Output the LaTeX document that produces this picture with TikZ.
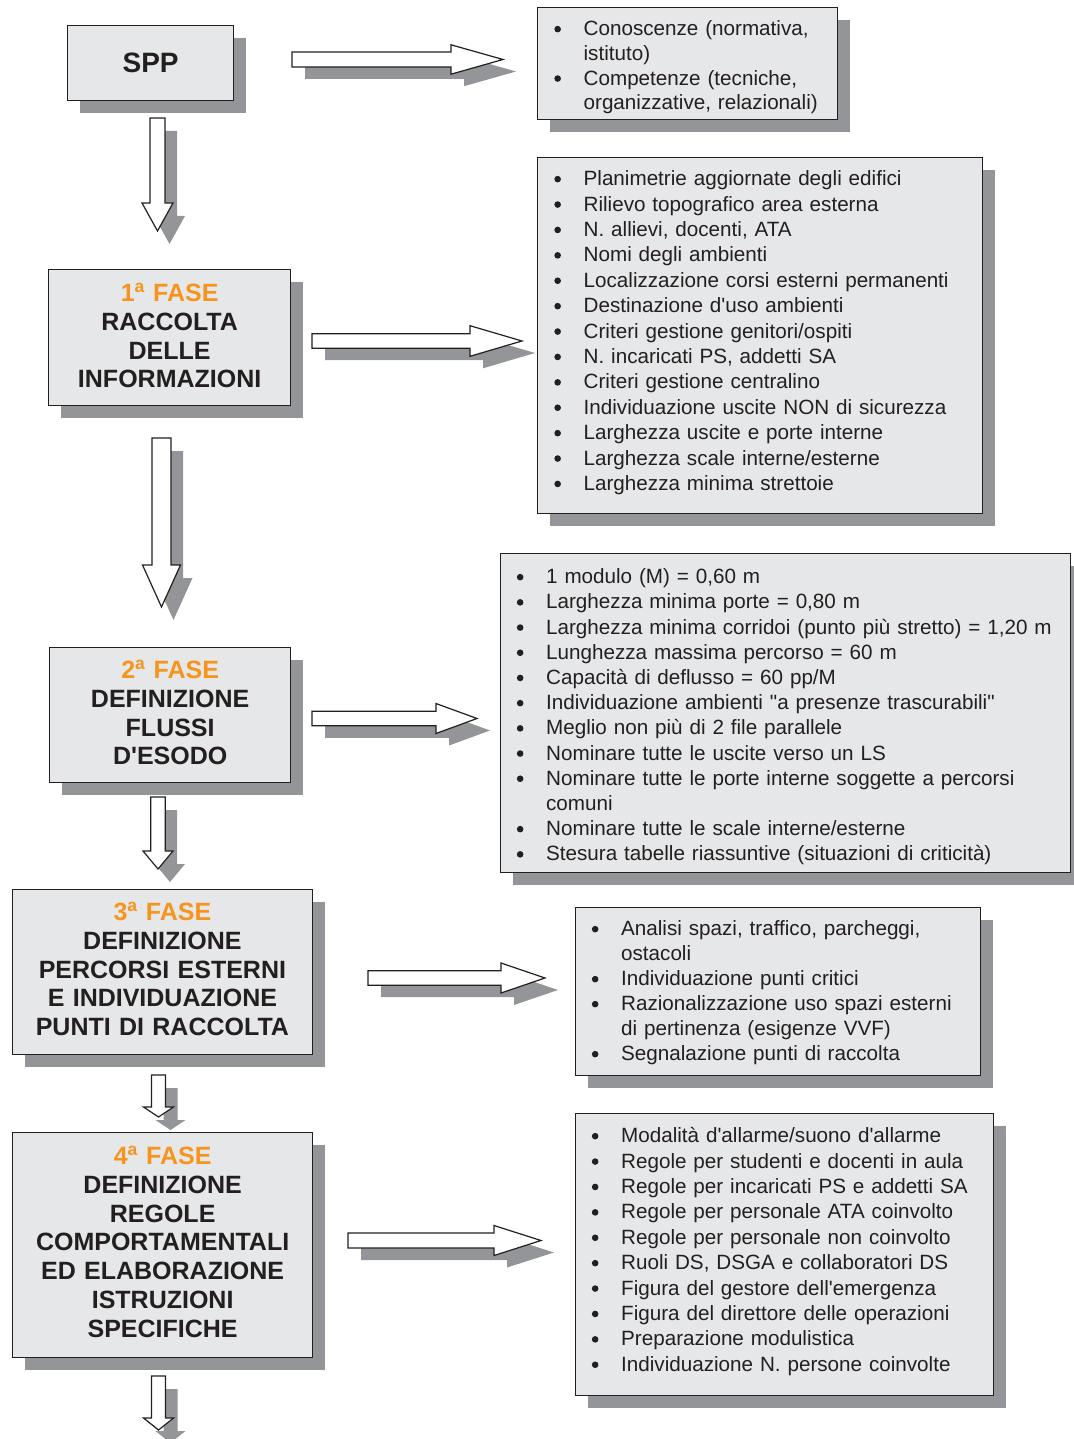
\documentclass[tikz,border=0pt]{standalone}
\usepackage{fontspec}
\setmainfont{Liberation Sans}
\usetikzlibrary{shadows}
\definecolor{boxfill}{HTML}{E6E7E8}
\definecolor{sgray}{HTML}{939598}
\definecolor{orng}{HTML}{F7941D}
\definecolor{ink}{HTML}{231F20}
\newcommand\B{\makebox[30pt][l]{\hspace{0.7pt}\tikz[baseline=-6.5pt]\fill[ink] (3.3pt,0pt) circle (3.3pt);}}
\newcommand\C{\makebox[30pt]{}}
\newcommand\myap{\textquotesingle}
\newcommand\fase[1]{\textcolor{orng}{#1\textsuperscript{a} FASE}}
% right-pointing block arrow: x0, yc, xhead, xtip, half shaft, half head
\newcommand\rarr[6]{%
  \fill[sgray,shift={(13,12)}] (#1,#2-#5) -- (#3,#2-#5) -- (#3,#2-#6) -- (#4,#2) -- (#3,#2+#6) -- (#3,#2+#5) -- (#1,#2+#5) -- cycle;
  \draw[fat] (#1,#2-#5) -- (#3,#2-#5) -- (#3,#2-#6) -- (#4,#2) -- (#3,#2+#6) -- (#3,#2+#5) -- (#1,#2+#5) -- cycle;}
% down-pointing block arrow: xc, y0, yhead, ytip, half shaft, half head
\newcommand\darr[6]{%
  \fill[sgray,shift={(12,13)}] (#1-#5,#2) -- (#1+#5,#2) -- (#1+#5,#3) -- (#1+#6,#3) -- (#1,#4) -- (#1-#6,#3) -- (#1-#5,#3) -- cycle;
  \draw[fat] (#1-#5,#2) -- (#1+#5,#2) -- (#1+#5,#3) -- (#1+#6,#3) -- (#1,#4) -- (#1-#6,#3) -- (#1-#5,#3) -- cycle;}
\tikzset{
  shadowed/.style={general shadow={fill=sgray, shadow xshift=12.5pt, shadow yshift=-12.5pt}},
  panel/.style={shadowed, draw=ink, line width=1.3pt, fill=boxfill, anchor=north west, inner sep=0pt, text=ink},
  phase/.style={panel, align=center, font=\bfseries\fontsize{25}{28.75}\selectfont},
  list/.style={panel, inner xsep=16pt, align=left, font=\fontsize{20.65}{25.4}\selectfont},
  fat/.style={draw=ink, line width=1.2pt, fill=white, line join=miter},
}
\begin{document}
\begin{tikzpicture}[x=1pt,y=-1pt]
\useasboundingbox (0,0) rectangle (1073,1439);

% left column
\node[phase, font=\bfseries\fontsize{28}{32}\selectfont, minimum width=166pt, minimum height=75pt] (spp) at (67,25) {SPP};
\node[phase, text width=242pt, text height=32pt, text depth=104pt] (f1) at (48,269)
  {\fase{1}\\RACCOLTA\\DELLE\\INFORMAZIONI};
\node[phase, text width=241pt, text height=31pt, text depth=104pt] (f2) at (49,647)
  {\fase{2}\\DEFINIZIONE\\FLUSSI\\D\myap ESODO};
\node[phase, text width=300.5pt, text height=31pt, text depth=134pt] (f3) at (11.5,889)
  {\fase{3}\\DEFINIZIONE\\PERCORSI ESTERNI\\E INDIVIDUAZIONE\\PUNTI DI RACCOLTA};
\node[phase, text width=300pt, text height=32pt, text depth=193pt] (f4) at (12,1132)
  {\fase{4}\\DEFINIZIONE\\REGOLE\\COMPORTAMENTALI\\ED ELABORAZIONE\\ISTRUZIONI\\SPECIFICHE};

% right column
\node[list, font=\fontsize{20.65}{24.7}\selectfont, text width=268pt, text height=28pt, text depth=84pt] (la) at (537,7)
  {\B Conoscenze (normativa,\\\C istituto)\\\B Competenze (tecniche,\\\C organizzative, relazionali)};
\node[list, text width=413pt, text height=28pt, text depth=328pt] (lb) at (537,157)
  {\B Planimetrie aggiornate degli edifici\\
   \B Rilievo topografico area esterna\\
   \B N. allievi, docenti, ATA\\
   \B Nomi degli ambienti\\
   \B Localizzazione corsi esterni permanenti\\
   \B Destinazione d\myap uso ambienti\\
   \B Criteri gestione genitori/ospiti\\
   \B N. incaricati PS, addetti SA\\
   \B Criteri gestione centralino\\
   \B Individuazione uscite NON di sicurezza\\
   \B Larghezza uscite e porte interne\\
   \B Larghezza scale interne/esterne\\
   \B Larghezza minima strettoie};
\node[list, font=\fontsize{20.65}{25.2}\selectfont, text width=538pt, text height=30pt, text depth=289pt] (lc) at (499.5,553)
  {\B 1 modulo (M) = 0,60 m\\
   \B Larghezza minima porte = 0,80 m\\
   \B \mbox{Larghezza minima corridoi (punto più stretto) = 1,20 m}\\
   \B Lunghezza massima percorso = 60 m\\
   \B Capacità di deflusso = 60 pp/M\\
   \B Individuazione ambienti \textquotedbl a presenze trascurabili\textquotedbl\\
   \B Meglio non più di 2 file parallele\\
   \B Nominare tutte le uscite verso un LS\\
   \B \mbox{Nominare tutte le porte interne soggette a percorsi}\\
   \C comuni\\
   \B Nominare tutte le scale interne/esterne\\
   \B \mbox{Stesura tabelle riassuntive (situazioni di criticità)}};
\node[list, font=\fontsize{20.65}{25}\selectfont, text width=373pt, text height=28pt, text depth=140pt] (ld) at (574.5,907)
  {\B Analisi spazi, traffico, parcheggi,\\
   \C ostacoli\\
   \B Individuazione punti critici\\
   \B Razionalizzazione uso spazi esterni\\
   \C di pertinenza (esigenze VVF)\\
   \B Segnalazione punti di raccolta};
\node[list, text width=386pt, text height=29pt, text depth=253pt] (le) at (574.5,1113)
  {\B Modalità d\myap allarme/suono d\myap allarme\\
   \B Regole per studenti e docenti in aula\\
   \B Regole per incaricati PS e addetti SA\\
   \B Regole per personale ATA coinvolto\\
   \B Regole per personale non coinvolto\\
   \B Ruoli DS, DSGA e collaboratori DS\\
   \B Figura del gestore dell\myap emergenza\\
   \B Figura del direttore delle operazioni\\
   \B Preparazione modulistica\\
   \B Individuazione N. persone coinvolte};

% block arrows to the right
\rarr{292}{59.5}{451}{503}{7.5}{14.7}
\rarr{312}{341}{470}{522}{7.2}{15.3}
\rarr{312}{718.5}{436}{477}{7.3}{15}
\rarr{368}{978}{501}{545}{7.2}{15}
\rarr{348}{1240.5}{494}{541}{7.5}{15}

% block arrows downward
\darr{157.5}{118}{203}{231}{7.5}{15.5}
\darr{161.5}{438}{565}{607}{9.5}{19}
\darr{158}{797}{851}{869}{7.2}{15}
\darr{158.5}{1075}{1107}{1117}{7}{15}
\darr{158.5}{1376}{1418}{1430}{7}{15}
\end{tikzpicture}
\end{document}
